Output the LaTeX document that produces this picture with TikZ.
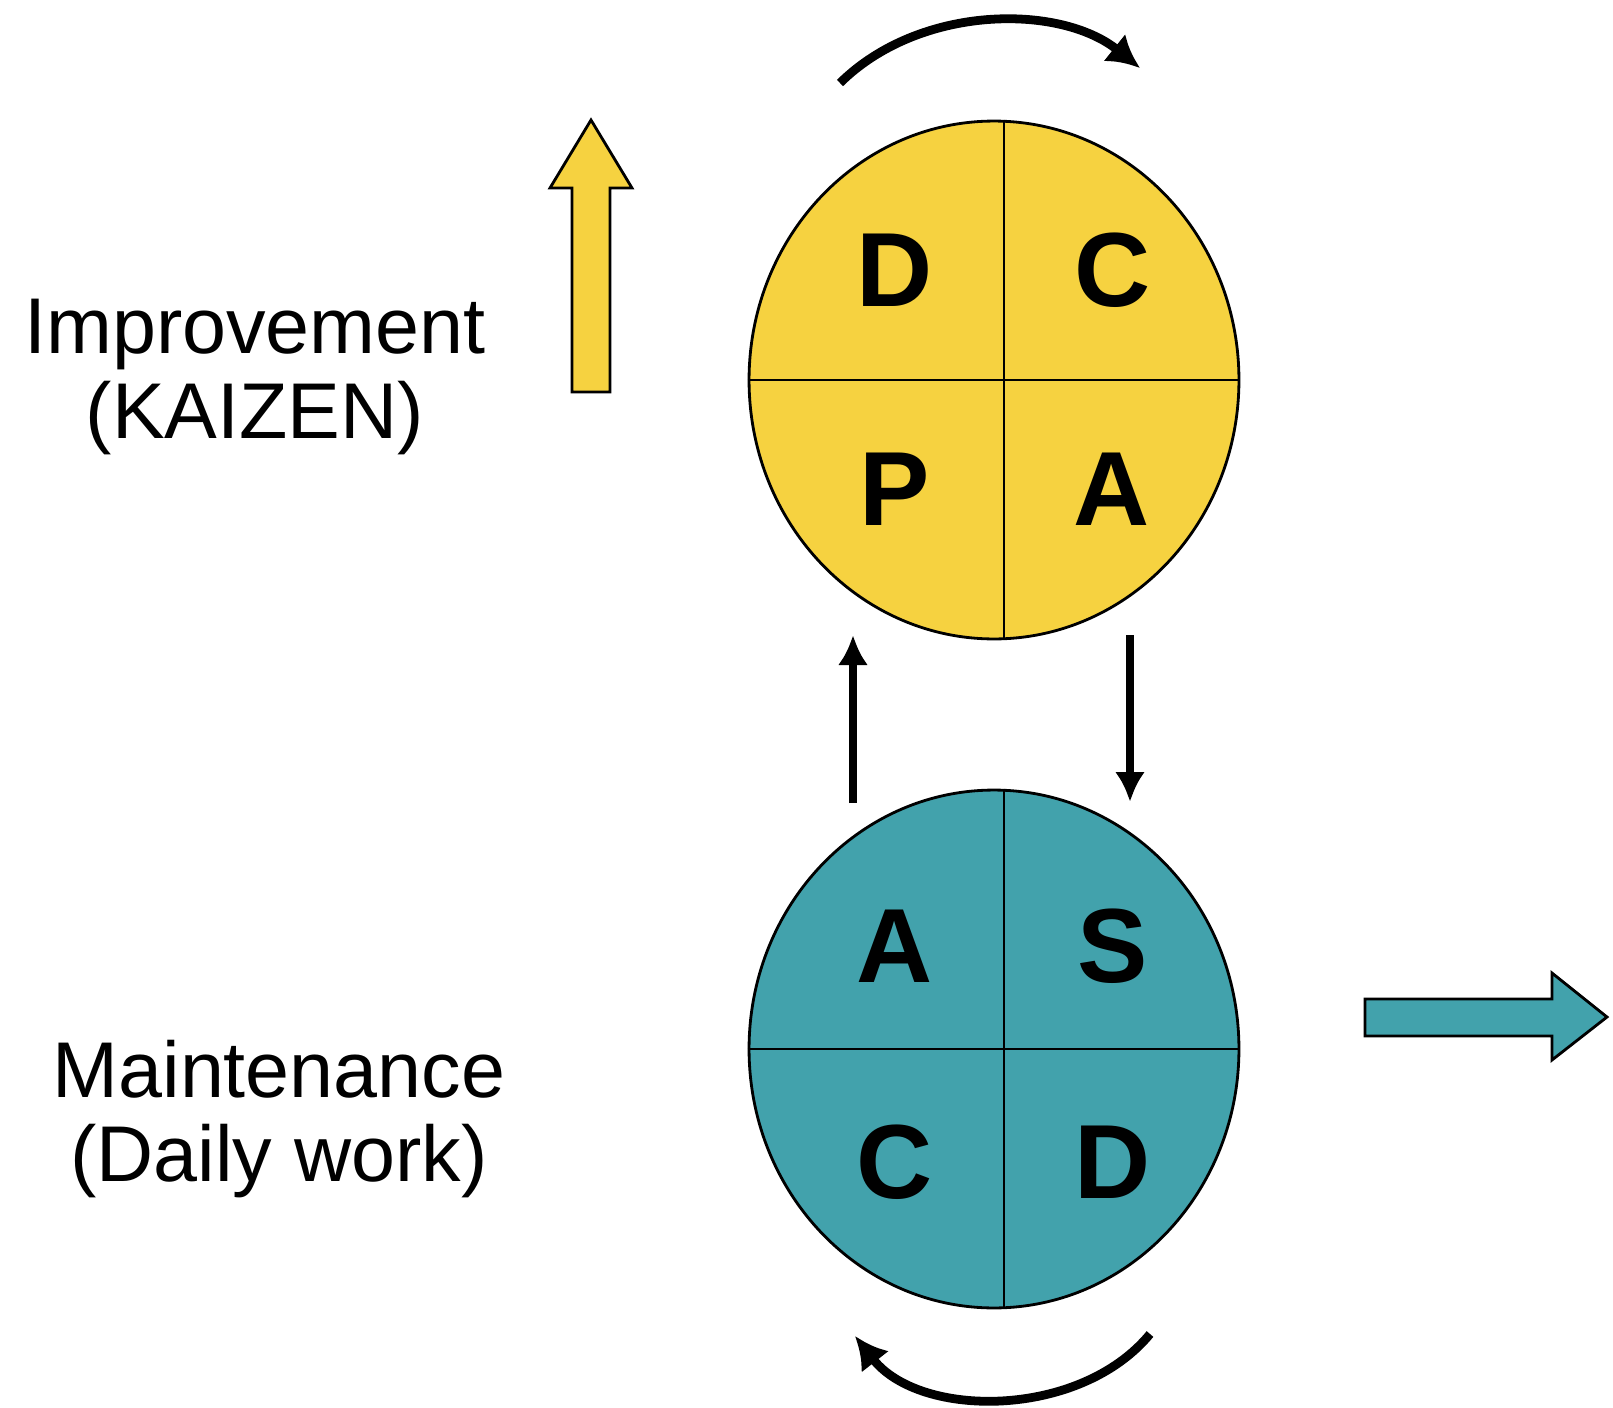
\documentclass[tikz,border=0pt]{standalone}
\usepackage{fontspec}
\setmainfont{Liberation Sans}
\usetikzlibrary{calc,shapes.geometric,arrows.meta}
\definecolor{kaizenyellow}{RGB}{246,210,64}
\definecolor{dailyteal}{RGB}{66,162,172}

\begin{document}
\begin{tikzpicture}[x=0.02cm,y=-0.02cm,
		ring/.style={ellipse,draw,line width=1.6pt,minimum width=9.8cm,minimum height=10.36cm,inner sep=0pt},
		letter/.style={font=\fontsize{60}{60}\selectfont\bfseries},
		sidetext/.style={align=center,font=\fontsize{45}{48}\selectfont},
		spin/.style={line width=5pt,-{Latex[length=0.65cm,width=0.7cm]}},
		flow/.style={line width=4.5pt,-{Latex[length=0.6cm,width=0.6cm]}},
		bigarrow/.style={draw,line width=1.6pt,line join=miter}]
		
		\useasboundingbox (0,0) rectangle (1613,1407);
		
		\node (kaizen) at (994,380) [ring,fill=kaizenyellow] {};
		\node (daily) at (994,1049) [ring,fill=dailyteal] {};
		\foreach \c in {kaizen,daily} {
			\draw[line width=1.6pt] ($(\c.north)+(10,0)$) -- ($(\c.south)+(10,0)$);
			\draw[line width=1.6pt] (\c.west) -- (\c.east);
		}
		\foreach \l/\x/\y [count=\i] in {D/895/270, C/1113/270, P/895/489, A/1112/489}
			\node (k\i) at (\x,\y) [letter] {\l};
		\foreach \l/\x/\y [count=\i] in {A/895/946, S/1113/946, C/895/1162, D/1113/1162}
			\node (d\i) at (\x,\y) [letter] {\l};
		
		\node (improve) at (255,377) [sidetext] {Improvement\\(KAIZEN)};
		\node (maintain) at (279,1119) [sidetext] {Maintenance\\(Daily work)};
		
		\draw[bigarrow,fill=kaizenyellow] (572,392) -- (572,188) -- (550,188) -- (591,120)
			-- (632,188) -- (610,188) -- (610,392) -- cycle;
		\draw[bigarrow,fill=dailyteal] (1365,999) -- (1552,999) -- (1552,973) -- (1607,1017)
			-- (1552,1060) -- (1552,1036) -- (1365,1036) -- cycle;
		
		\coordinate (topL) at (840,83);
		\coordinate (topR) at (1140,68);
		\coordinate (botR) at (1150,1334);
		\coordinate (botL) at (855,1336);
		\draw[spin] (topL) .. controls (920,4) and (1060,4) .. (topR);
		\draw[spin] (botR) .. controls (1080,1419) and (920,1419) .. (botL);
		
		\coordinate (upS) at (853,803);
		\coordinate (upE) at (853,635);
		\coordinate (dnS) at (1130,635);
		\coordinate (dnE) at (1130,802);
		\draw[flow] (upS) -- (upE);
		\draw[flow] (dnS) -- (dnE);
		
	\end{tikzpicture}
\end{document}
